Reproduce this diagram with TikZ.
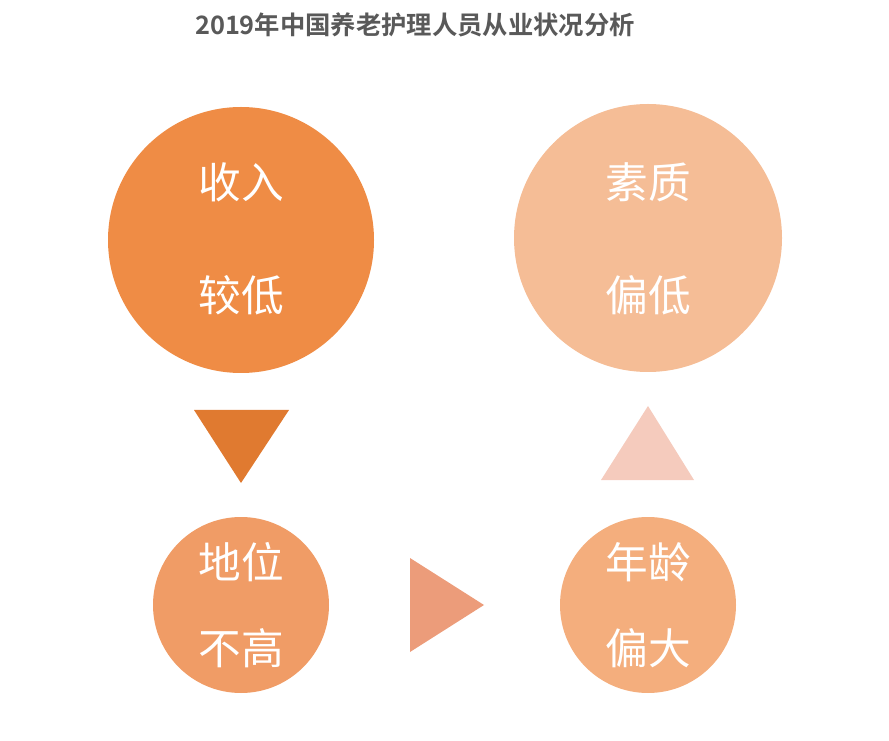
\documentclass[tikz,border=0pt]{standalone}
\usepackage{fontspec}
\newfontfamily\cjk{Noto Sans CJK SC}
\newfontfamily\cjkb{Noto Sans CJK SC Bold}
\definecolor{cA}{HTML}{EF8C45}
\definecolor{cB}{HTML}{F5BD96}
\definecolor{cC}{HTML}{F09C66}
\definecolor{cD}{HTML}{F4AE7D}
\definecolor{tA}{HTML}{E07A30}
\definecolor{tB}{HTML}{F5CBBD}
\definecolor{tC}{HTML}{EC9C7A}
\definecolor{ttl}{HTML}{595959}
\begin{document}
\begin{tikzpicture}[x=0.75pt,y=-0.75pt,
  lbl/.style={text=white,font=\cjk\fontsize{32}{36}\selectfont,inner sep=0pt}]
\useasboundingbox (0,0) rectangle (889,741);
\node[text=ttl,font=\cjkb\fontsize{19}{22}\selectfont] (title) at (415,25) {2019年中国养老护理人员从业状况分析};
\fill[cA] (241,240) circle (133) coordinate (c1);
\fill[cB] (648,238) circle (134) coordinate (c2);
\fill[cC] (241,605) circle (88) coordinate (c3);
\fill[cD] (648,605) circle (88) coordinate (c4);
\node[lbl] (a1) at (241,182) {收入};
\node[lbl] (a2) at (241,295) {较低};
\node[lbl] (b1) at (648,182) {素质};
\node[lbl] (b2) at (648,295) {偏低};
\node[lbl] (d1) at (241,562) {地位};
\node[lbl] (d2) at (241,648) {不高};
\node[lbl] (e1) at (648,562) {年龄};
\node[lbl] (e2) at (648,648) {偏大};
\fill[tA] (194,410) -- (289,410) -- (241,483) -- cycle;
\fill[tB] (601,480) -- (694,480) -- (648,406) -- cycle;
\fill[tC] (410,558) -- (410,652) -- (484,605) -- cycle;
\end{tikzpicture}
\end{document}
